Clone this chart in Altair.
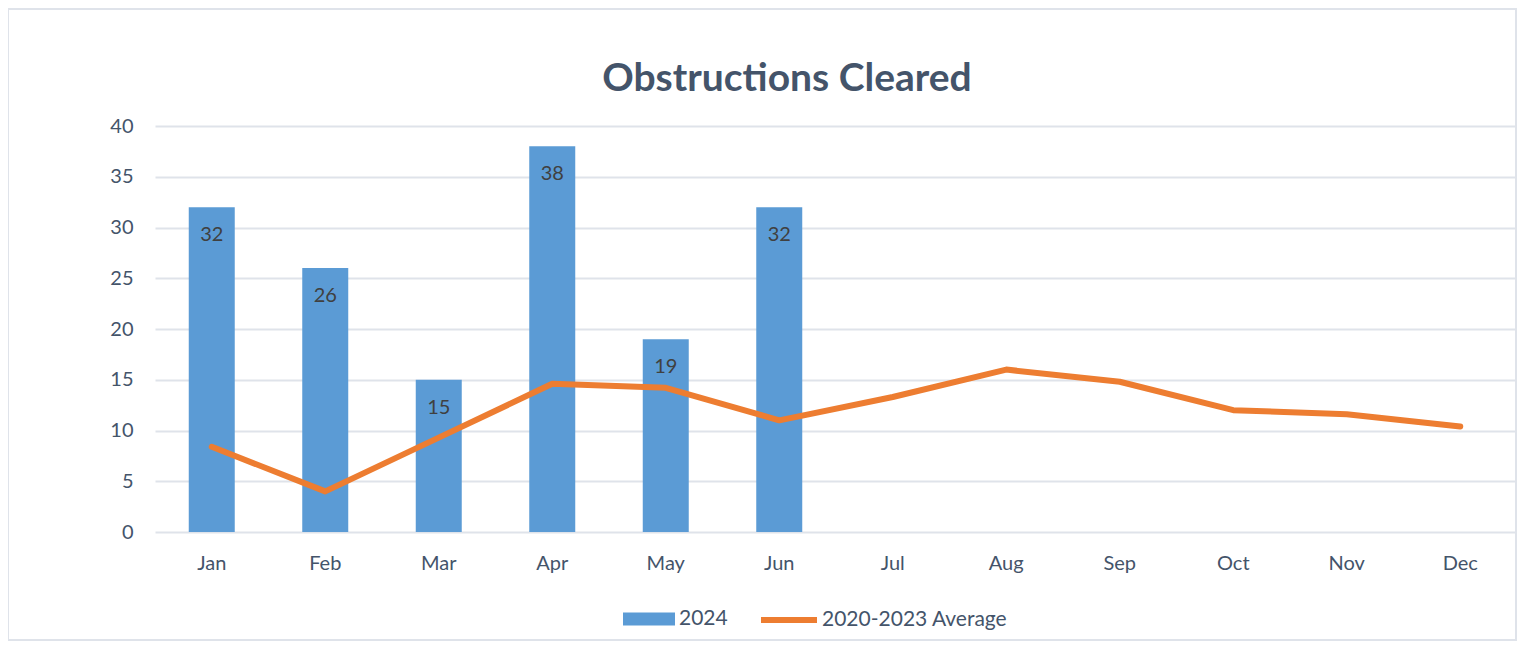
import altair as alt
import pandas as pd

months = ["Jan", "Feb", "Mar", "Apr", "May", "Jun", "Jul", "Aug", "Sep", "Oct", "Nov", "Dec"]
values_2024 = [32, 26, 15, 38, 19, 32, None, None, None, None, None, None]
avg_2020_2023 = [8.4, 4.0, 9.3, 14.6, 14.2, 11.0, 13.3, 16.0, 14.8, 12.0, 11.6, 10.4]

df = pd.DataFrame({"month": months, "v2024": values_2024, "avg": avg_2020_2023})
df["s_bar"] = "2024"
df["s_line"] = "2020-2023 Average"

FONT = "Lato"
TEXT = "#44546A"
W, H = 1362, 406

x = alt.X("month:N", sort=months, title=None,
          scale=alt.Scale(paddingInner=0.6, paddingOuter=0.3),
          axis=alt.Axis(labelAngle=0, domain=False, ticks=False, grid=False,
                        labelPadding=21, labelFontSize=20, labelFont=FONT, labelColor=TEXT))
y_scale = alt.Scale(domain=[0, 40])
y_axis = alt.Axis(values=[0, 5, 10, 15, 20, 25, 30, 35, 40], domain=False, ticks=False,
                  labelPadding=22, labelFontSize=20, labelFont=FONT, labelColor=TEXT,
                  gridColor="#DFE3EA", gridWidth=2)

base = alt.Chart(df)

frame = base.mark_rect(fill=None, stroke="#DFE3EA", strokeWidth=2).encode(
    x=alt.value(-147), x2=alt.value(W - 1), y=alt.value(-117), y2=alt.value(H + 108)
)

bars = base.mark_bar(size=46).encode(
    x=x,
    y=alt.Y("v2024:Q", scale=y_scale, axis=y_axis, title=None),
    fill=alt.Fill("s_bar:N", scale=alt.Scale(domain=["2024"], range=["#5B9BD5"]),
                  legend=alt.Legend(title=None, orient="none", legendX=468, legendY=467,
                                    symbolType="M-1,-0.25H1V0.25H-1Z", symbolSize=2704,
                                    symbolStrokeWidth=0, labelFontSize=21, labelFont=FONT,
                                    labelColor=TEXT, labelOffset=4, padding=0, labelLimit=0)),
).transform_filter("isValid(datum.v2024)")

labels = base.mark_text(baseline="middle", dy=28, fontSize=20, font=FONT, color="#404040").encode(
    x=x,
    y=alt.Y("v2024:Q", scale=y_scale),
    text=alt.Text("v2024:Q"),
).transform_filter("isValid(datum.v2024)")

line = base.mark_line(strokeWidth=6, strokeCap="round", strokeJoin="round").encode(
    x=x,
    y=alt.Y("avg:Q", scale=y_scale),
    stroke=alt.Stroke("s_line:N",
                      scale=alt.Scale(domain=["2020-2023 Average"], range=["#ED7D31"]),
                      legend=alt.Legend(title=None, orient="none", legendX=603, legendY=463,
                                        symbolType="stroke", symbolSize=3136,
                                        symbolStrokeWidth=6, labelFontSize=21, labelFont=FONT,
                                        labelColor=TEXT, labelOffset=2, padding=0, labelLimit=0)),
)

chart = alt.layer(frame, bars, labels, line).properties(
    width=W, height=H,
    title=alt.TitleParams("Obstructions Cleared", font=FONT, fontSize=39, fontWeight="bold",
                          color=TEXT, anchor="middle", frame="group", dx=-49, dy=91, offset=0),
    autosize=alt.AutoSizeParams(type="none"),
    padding={"left": 147, "top": 118, "right": 0, "bottom": 110},
).resolve_scale(fill="independent", stroke="independent").configure_view(stroke=None)

chart.save("out.html", embed_options={"renderer": "svg", "actions": False})
